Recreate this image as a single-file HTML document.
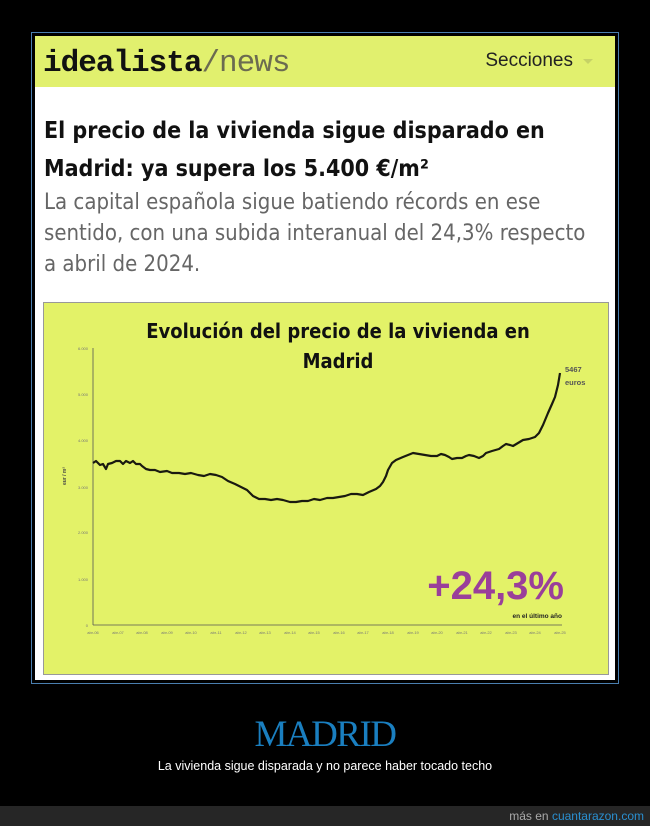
<!DOCTYPE html>
<html><head><meta charset="utf-8"><style>
*{margin:0;padding:0;box-sizing:border-box}
body{width:650px;height:826px;background:#000;position:relative;overflow:hidden;font-family:"Liberation Sans",sans-serif}
.frame{position:absolute;left:31px;top:32px;width:588px;height:652px;border:1px solid #4a7fb0}
.card{position:absolute;left:35px;top:36px;width:580px;height:644px;background:#fff}
.hdr{position:absolute;left:0;top:0;width:580px;height:51px;background:#e1f06e}
.logo{position:absolute;left:8px;top:10px;font-family:"Liberation Mono",monospace;font-size:31px;font-weight:bold;letter-spacing:-1px;color:#111}
.logo span{color:#6b6b50;font-weight:normal}
.sec{position:absolute;right:22px;top:14px;font-size:19px;color:#222}
.sec:after{content:"";display:inline-block;margin-left:10px;border:5px solid transparent;border-top:5px solid #c6d266;vertical-align:middle;position:relative;top:3px}
h1{position:absolute;left:9px;top:76px;width:560px;font-size:23px;line-height:38px;font-weight:bold;color:#111;font-family:"DejaVu Sans Condensed","Liberation Sans",sans-serif}
.sub{position:absolute;left:9px;top:151px;width:575px;font-size:22px;line-height:31px;color:#666;font-family:"DejaVu Sans Condensed","Liberation Sans",sans-serif;white-space:nowrap}
.madrid{position:absolute;left:0;width:650px;top:713px;text-align:center;font-family:"Liberation Serif",serif;font-size:37px;color:#1a7fc0;letter-spacing:-1.5px}
.cap{position:absolute;left:0;width:650px;top:759px;text-align:center;font-size:12.5px;color:#fff}
.foot{position:absolute;left:0;top:806px;width:650px;height:20px;background:#262626;text-align:right;padding-right:6px;font-size:12px;color:#aaa;line-height:20px}
.foot b{color:#2a8fd0;font-weight:normal}
</style></head><body>
<div class="frame"></div>
<div class="card">
<div class="hdr"><div class="logo">idealista<span>/news</span></div><div class="sec">Secciones</div></div>
<h1>El precio de la vivienda sigue disparado en Madrid: ya supera los 5.400 €/m²</h1>
<div class="sub">La capital española sigue batiendo récords en ese<br>sentido, con una subida interanual del 24,3% respecto<br>a abril de 2024.</div>
</div>
<svg style="position:absolute;left:0;top:0" width="650" height="826">
<rect x="43.5" y="302.5" width="565" height="372" fill="#e3f268" stroke="#999"/>
<text x="338" y="338" text-anchor="middle" font-family="DejaVu Sans Condensed,Liberation Sans,sans-serif" font-weight="bold" font-size="20" fill="#111">Evolución del precio de la vivienda en</text>
<text x="338" y="368" text-anchor="middle" font-family="DejaVu Sans Condensed,Liberation Sans,sans-serif" font-weight="bold" font-size="20" fill="#111">Madrid</text>
<line x1="93" y1="348" x2="93" y2="625" stroke="#555" stroke-width="0.8"/>
<line x1="93" y1="625" x2="562" y2="625" stroke="#555" stroke-width="0.8"/>
<g font-size="4" fill="#777" font-family="Liberation Sans,sans-serif" text-anchor="end">
<text x="88" y="350">6.000</text><text x="88" y="396">5.000</text><text x="88" y="442">4.000</text><text x="88" y="489">3.000</text><text x="88" y="534">2.000</text><text x="88" y="581">1.000</text><text x="88" y="627">0</text></g>
<text transform="translate(66,476) rotate(-90)" font-size="5" fill="#444" text-anchor="middle" font-weight="bold">eur / m²</text>
<g font-size="4" fill="#777" font-family="Liberation Sans,sans-serif" text-anchor="middle">
<text x="93" y="634">abr-06</text><text x="118" y="634">abr-07</text><text x="142" y="634">abr-08</text><text x="167" y="634">abr-09</text><text x="191" y="634">abr-10</text><text x="216" y="634">abr-11</text><text x="241" y="634">abr-12</text><text x="265" y="634">abr-13</text><text x="290" y="634">abr-14</text><text x="314" y="634">abr-15</text><text x="339" y="634">abr-16</text><text x="363" y="634">abr-17</text><text x="388" y="634">abr-18</text><text x="413" y="634">abr-19</text><text x="437" y="634">abr-20</text><text x="462" y="634">abr-21</text><text x="486" y="634">abr-22</text><text x="511" y="634">abr-23</text><text x="535" y="634">abr-24</text><text x="560" y="634">abr-25</text></g>
<polyline fill="none" stroke="#1a1a10" stroke-width="2.2" stroke-linejoin="round" points="93,463 96,461 100,465 103,464 106,469 108,464 112,463 116,461 120,461 123,464 126,461 130,463 133,461 136,464 140,464 142,466 146,469 150,470 155,470 160,472 167,471 172,473 179,473 185,474 191,473 198,475 204,476 210,474 216,475 222,477 228,481 235,484 241,487 247,490 253,496 259,499 265,499 271,500 277,499 283,500 290,502 296,502 302,501 308,501 314,499 320,500 327,498 333,498 339,497 345,496 351,494 357,494 363,495 369,492 376,489 380,486 383,482 386,476 388,470 392,463 396,460 403,457 408,455 413,453 419,454 425,455 431,456 437,456 441,454 445,455 449,457 452,459 457,458 462,458 466,456 469,455 474,456 479,458 483,456 486,453 492,451 499,449 503,446 506,444 510,445 513,446 518,443 523,440 529,439 535,437 539,433 543,425 548,413 552,404 555,397 558,385 560,373"/>
<text x="565" y="372" font-size="7.5" font-weight="bold" fill="#555" font-family="Liberation Sans,sans-serif">5467</text>
<text x="565" y="385" font-size="7.5" font-weight="bold" fill="#555" font-family="Liberation Sans,sans-serif">euros</text>
<text x="564" y="599" text-anchor="end" font-size="40" font-weight="bold" fill="#9a3f9a" font-family="Liberation Sans,sans-serif">+24,3%</text>
<text x="562" y="618" text-anchor="end" font-size="6.5" font-weight="bold" fill="#222" font-family="Liberation Sans,sans-serif">en el último año</text>
</svg>
<div class="madrid">MADRID</div>
<div class="cap">La vivienda sigue disparada y no parece haber tocado techo</div>
<div class="foot">más en <b>cuantarazon.com</b></div>
</body></html>
